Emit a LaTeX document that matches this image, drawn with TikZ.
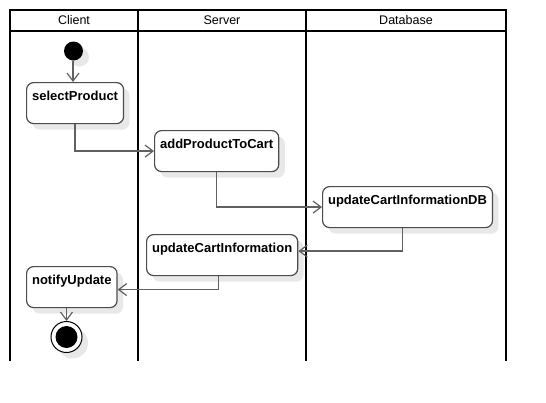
\documentclass[tikz,border=0pt]{standalone}
\usepackage{fontspec}
\setmainfont{Liberation Sans}
\usetikzlibrary{arrows.meta,shadows}

\begin{document}
\begin{tikzpicture}[x=1pt, y=-1pt,
    every node/.style={font=\fontsize{13}{15}\selectfont},
    lane/.style={line width=1.8pt, black},
    laneTitle/.style={anchor=base, font=\fontsize{12.5}{15}\selectfont},
    action/.style={draw=black!70, line width=1.2pt, fill=white, rounded corners=7pt,
        anchor=north west, inner xsep=5.5pt, inner ysep=0pt, text height=18pt, text depth=23pt,
        font=\fontsize{13}{15}\selectfont\bfseries,
        drop shadow={shadow xshift=6pt, shadow yshift=-6pt, fill=black!9, opacity=1}},
    flow/.style={draw=black!62, line width=1.3pt, -{Straight Barb[length=8pt, width=12pt, line width=1.2pt]}}]
    \useasboundingbox (0,0) rectangle (546,402);

    % Swimlanes
    \draw[lane] (10,361) -- (10,10) -- (506,10) -- (506,361);
    \draw[lane] (10,31) -- (506,31);
    \draw[lane] (138,10) -- (138,361);
    \draw[lane] (306,10) -- (306,361);
    \node[laneTitle] (client) at (74,24.5) {Client};
    \node[laneTitle] (server) at (222,24.5) {Server};
    \node[laneTitle] (database) at (406,24.5) {Database};

    % Nodes
    \node[circle, fill=black, minimum size=19pt, inner sep=0pt,
        drop shadow={shadow xshift=6pt, shadow yshift=-6pt, fill=black!9, opacity=1}] (start) at (73.5,51) {};
    \node[action] (sel) at (26,82) {selectProduct};
    \node[action] (add) at (154,130) {addProductToCart};
    \node[action] (db) at (322,186) {updateCartInformationDB};
    \node[action] (upd) at (146,234) {updateCartInformation};
    \node[action] (notif) at (26,266) {notifyUpdate};
    \node[circle, draw=black, line width=1pt, fill=white, minimum size=31pt, inner sep=0pt,
        drop shadow={shadow xshift=6pt, shadow yshift=-6pt, fill=black!9, opacity=1}] (fin) at (66.5,337) {};
    \node[circle, fill=black, minimum size=22pt, inner sep=0pt] (finDot) at (fin) {};

    % Links
    \draw[flow] ([xshift=-0.5pt]start.south) -- ([xshift=-0.5pt]start |- sel.north);
    \draw[flow] (sel.south) |- (add.west);
    \draw[flow] (add.south) |- (db.west);
    \draw[flow] ([xshift=-5pt]db.south) |- ([yshift=4pt]upd.east);
    \draw[flow] ([xshift=-4pt]upd.south) |- ([yshift=-2.5pt]notif.east);
    \draw[flow] (notif.south -| fin.north) -- (fin.north);
\end{tikzpicture}
\end{document}
